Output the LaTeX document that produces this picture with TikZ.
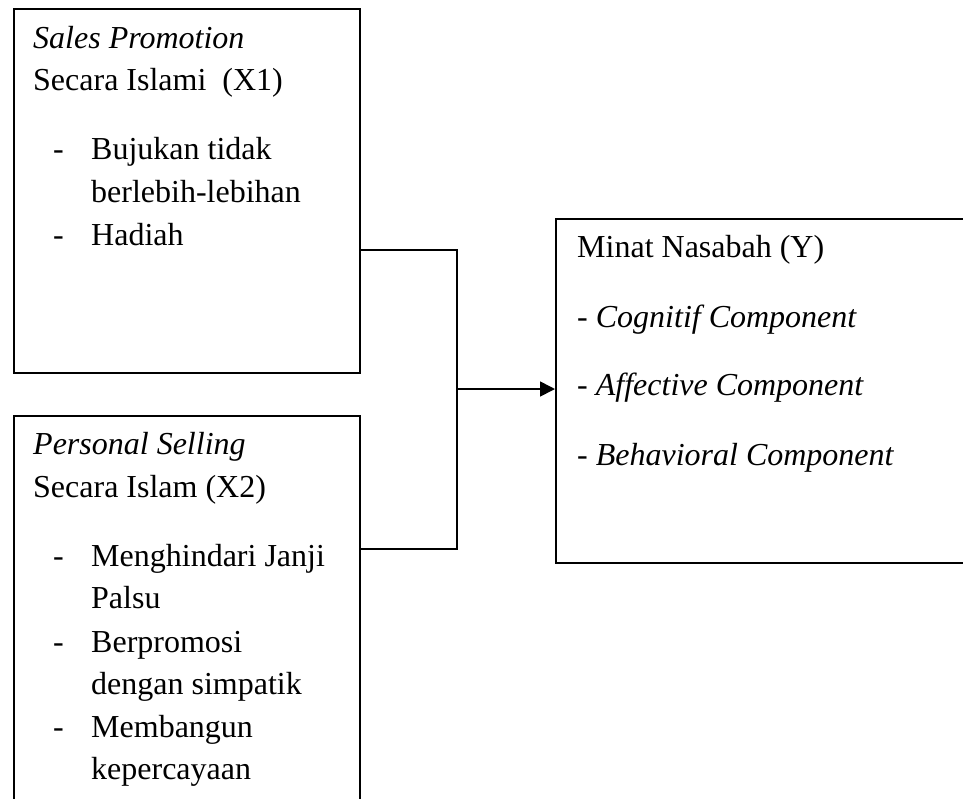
\documentclass[tikz,border=0pt]{standalone}
\usepackage{fontspec}
\setmainfont{Liberation Serif}
\usetikzlibrary{arrows.meta}
\begin{document}
\begin{tikzpicture}[x=1pt,y=-1pt,
  box/.style={draw=black, line width=1.6pt, rectangle, inner sep=0pt, anchor=north west},
  txt/.style={anchor=base west, inner sep=0pt, font=\fontsize{32}{38}\selectfont},
  conn/.style={draw=black, line width=1.6pt},
  bul/.style={txt}]
\useasboundingbox (0,0) rectangle (963,798);
\clip (0,0) rectangle (963,798);
% boxes
\node[box, minimum width=346pt, minimum height=364pt] (b1) at (13,8) {};
\node[box, minimum width=346pt, minimum height=420pt] (b2) at (13,415) {};
\node[box, minimum width=440pt, minimum height=344pt] (b3) at (555,218) {};
% box 1 text
\node[txt] (t1a) at (33,48) {\textit{Sales Promotion}};
\node[txt] (t1b) at (33,90) {Secara Islami\ \ (X1)};
\node[bul] (d1a) at (53,159) {-};
\node[txt] (t1c) at (91,159) {Bujukan tidak};
\node[txt] (t1d) at (91,202) {berlebih-lebihan};
\node[bul] (d1b) at (53,245) {-};
\node[txt] (t1e) at (91,245) {Hadiah};
% box 2 text
\node[txt] (t2a) at (33,454) {\textit{Personal Selling}};
\node[txt] (t2b) at (33,497) {Secara Islam (X2)};
\node[bul] (d2a) at (53,566) {-};
\node[txt] (t2c) at (91,566) {Menghindari Janji};
\node[txt] (t2d) at (91,608) {Palsu};
\node[bul] (d2b) at (53,652) {-};
\node[txt] (t2e) at (91,652) {Berpromosi};
\node[txt] (t2f) at (91,694) {dengan simpatik};
\node[bul] (d2c) at (53,737) {-};
\node[txt] (t2g) at (91,737) {Membangun};
\node[txt] (t2h) at (91,779) {kepercayaan};
% box 3 text
\node[txt] (t3a) at (577,257) {Minat Nasabah (Y)};
\node[txt] (t3b) at (577,327) {- \textit{Cognitif Component}};
\node[txt] (t3c) at (577,395) {- \textit{Affective Component}};
\node[txt] (t3d) at (577,465) {- \textit{Behavioral Component}};
% connectors
\coordinate (j1) at (457,250);
\coordinate (j2) at (457,549);
\coordinate (jm) at (457,389);
\draw[conn] (b1.east |- j1) -- (j1) -- (j2) -- (b2.east |- j2);
\draw[conn, -{Triangle[length=15pt,width=15pt]}] (jm) -- (b3.west |- jm);
\end{tikzpicture}
\end{document}
